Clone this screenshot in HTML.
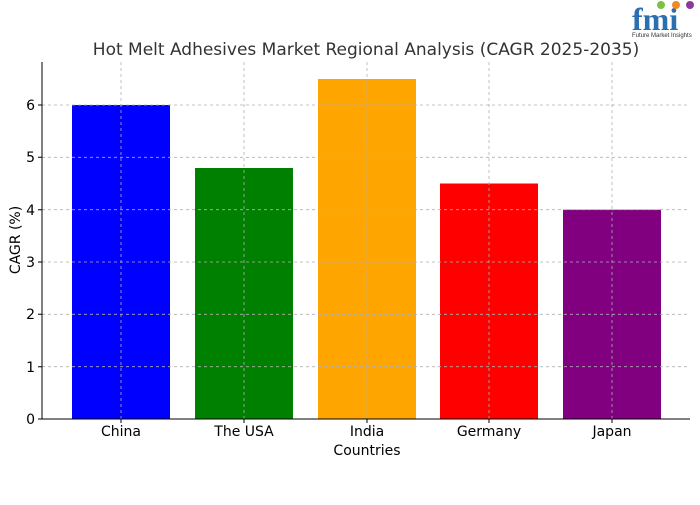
<!DOCTYPE html>
<html><head><meta charset="utf-8"><style>body{margin:0;background:#fff}</style></head><body>
<svg width="700" height="500" xmlns="http://www.w3.org/2000/svg" font-family="DejaVu Sans, Liberation Sans, sans-serif">
<rect width="700" height="500" fill="#fff"/>
<text x="632" y="30" font-size="32" font-weight="bold" fill="#2a6fb0" font-family="Liberation Serif, serif">fmi</text>
<circle cx="661" cy="5" r="4" fill="#7cc242"/><circle cx="676" cy="5" r="4" fill="#f08a24"/><circle cx="690" cy="5" r="4" fill="#8b3a9c"/>
<text x="632" y="37" font-size="6" fill="#333" font-family="Liberation Sans, sans-serif">Future Market Insights</text>
<text x="366" y="55" font-size="17" text-anchor="middle" fill="#333">Hot Melt Adhesives Market Regional Analysis (CAGR 2025-2035)</text>
<rect x="72" y="105" width="98" height="314" fill="#0000ff"/>
<rect x="195" y="168" width="98" height="251" fill="#008000"/>
<rect x="318" y="79" width="98" height="340" fill="#ffa500"/>
<rect x="440" y="183.5" width="98" height="235.5" fill="#ff0000"/>
<rect x="563" y="209.7" width="98" height="209.3" fill="#800080"/>
<g stroke="#b0b0b0" stroke-dasharray="3,3" stroke-width="0.8">
<line x1="42" x2="690" y1="366.7" y2="366.7"/><line x1="42" x2="690" y1="314.3" y2="314.3"/>
<line x1="42" x2="690" y1="262" y2="262"/><line x1="42" x2="690" y1="209.7" y2="209.7"/>
<line x1="42" x2="690" y1="157.3" y2="157.3"/><line x1="42" x2="690" y1="105" y2="105"/>
<line x1="121" x2="121" y1="62" y2="419"/><line x1="244" x2="244" y1="62" y2="419"/>
<line x1="367" x2="367" y1="62" y2="419"/><line x1="489" x2="489" y1="62" y2="419"/>
<line x1="612" x2="612" y1="62" y2="419"/>
</g>
<g stroke="#000" stroke-width="1">
<line x1="42" y1="62" x2="42" y2="419"/><line x1="42" y1="419" x2="690" y2="419"/>
<path d="M38 419H42M38 366.7H42M38 314.3H42M38 262H42M38 209.7H42M38 157.3H42M38 105H42M121 419V423M244 419V423M367 419V423M489 419V423M612 419V423"/>
</g>
<g font-size="14" fill="#000" text-anchor="end">
<text x="35" y="424">0</text><text x="35" y="372">1</text><text x="35" y="319">2</text>
<text x="35" y="267">3</text><text x="35" y="215">4</text><text x="35" y="162">5</text><text x="35" y="110">6</text>
</g>
<g font-size="14" fill="#000" text-anchor="middle">
<text x="121" y="436">China</text><text x="244" y="436">The USA</text><text x="367" y="436">India</text>
<text x="489" y="436">Germany</text><text x="612" y="436">Japan</text>
<text x="367" y="455">Countries</text>
</g>
<text x="20" y="240" font-size="14" text-anchor="middle" transform="rotate(-90 20 240)">CAGR (%)</text>
</svg>
</body></html>
